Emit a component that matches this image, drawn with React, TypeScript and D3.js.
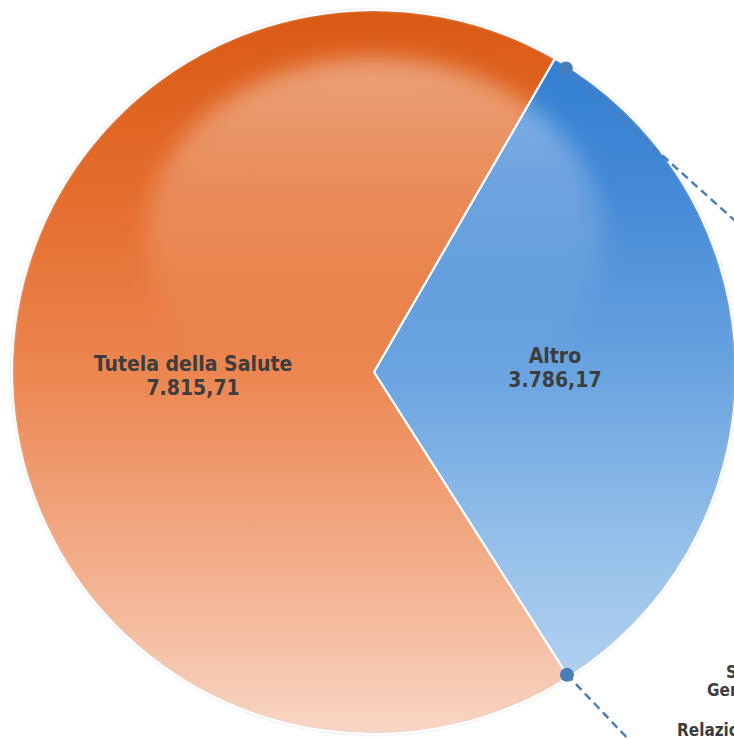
import React from 'react';
import * as d3 from 'd3';

const categories = ['Altro', 'Tutela della Salute'];
const values = [3786.17, 7815.71];
const valueLabels = ['3.786,17', '7.815,71'];
const sideLabelsA = ['Servizi', 'Generali'];
const sideLabelsB = ['Relazioni'];

const W = 734;
const H = 740;
const cx = 374;
const cy = 372;
const R = 362;
const START_DEG = 30;

const gradStops: Record<string, [number, string][]> = {
  'Tutela della Salute': [
    [0, '#DA5A14'],
    [0.25, '#E46C2C'],
    [0.5, '#EC8650'],
    [0.78, '#F3B08E'],
    [1, '#F8D6C4'],
  ],
  Altro: [
    [0, '#2C7BD0'],
    [0.25, '#4489D6'],
    [0.5, '#6AA4E0'],
    [0.78, '#9CC4EB'],
    [1, '#BCD7F2'],
  ],
};

export default function App() {
  const pie = d3
    .pie<number>()
    .sort(null)
    .value((d) => d)
    .startAngle((START_DEG * Math.PI) / 180)
    .endAngle((START_DEG * Math.PI) / 180 + 2 * Math.PI);
  const arcs = pie(values);
  const arc = d3.arc<d3.PieArcDatum<number>>().innerRadius(0).outerRadius(R);
  const labelArc = d3.arc<d3.PieArcDatum<number>>().innerRadius(R * 0.5).outerRadius(R * 0.5);

  const polar = (a: number, r: number): [number, number] => [
    cx + r * Math.sin(a),
    cy - r * Math.cos(a),
  ];
  const altro = arcs[0];
  const dotTop = polar(altro.startAngle + (2.3 * Math.PI) / 180, R - 3);
  const dotBot = polar(altro.endAngle, R - 3);
  const lineTopEnd: [number, number] = [dotTop[0] + 200, dotTop[1] + 200 * 0.9];
  const lineBotEnd: [number, number] = [dotBot[0] + 200, dotBot[1] + 200 * 1.05];

  const font = '"DejaVu Sans", Verdana, sans-serif';
  const hlTop = cy - R + 48;
  const hlBot = cy + 40;

  return (
    <svg
      width={W}
      height={H}
      style={{ position: 'absolute', left: 0, top: 0, background: '#fff' }}
    >
      <defs>
        {categories.map((c, i) => (
          <linearGradient
            key={c}
            id={`g${i}`}
            gradientUnits="userSpaceOnUse"
            x1={0}
            y1={-R}
            x2={0}
            y2={R}
          >
            {gradStops[c].map(([o, col]) => (
              <stop key={o} offset={o} stopColor={col} />
            ))}
          </linearGradient>
        ))}
        <linearGradient
          id="hl"
          gradientUnits="userSpaceOnUse"
          x1={0}
          y1={hlTop}
          x2={0}
          y2={hlBot - 40}
        >
          <stop offset={0} stopColor="#fff" stopOpacity={0.42} />
          <stop offset={0.35} stopColor="#fff" stopOpacity={0.25} />
          <stop offset={0.75} stopColor="#fff" stopOpacity={0.07} />
          <stop offset={1} stopColor="#fff" stopOpacity={0} />
        </linearGradient>
        <clipPath id="pieClip">
          <circle cx={cx} cy={cy} r={R} />
        </clipPath>
        <filter id="blur" x="-50%" y="-50%" width="200%" height="200%">
          <feGaussianBlur stdDeviation={11} />
        </filter>
        <filter id="blurSmall" x="-50%" y="-50%" width="200%" height="200%">
          <feGaussianBlur stdDeviation={1.2} />
        </filter>
      </defs>

      <g transform={`translate(${cx},${cy})`}>
        {arcs.map((a, i) => (
          <path key={categories[i]} d={arc(a) || ''} fill={`url(#g${i})`} />
        ))}
      </g>

      <g clipPath="url(#pieClip)">
        <ellipse
          cx={cx}
          cy={(hlTop + hlBot) / 2}
          rx={228}
          ry={(hlBot - hlTop) / 2}
          fill="url(#hl)"
          filter="url(#blur)"
        />
      </g>

      <circle
        cx={cx}
        cy={cy}
        r={R}
        fill="none"
        stroke="#cfcfcf"
        strokeWidth={1.5}
        filter="url(#blurSmall)"
      />

      <g transform={`translate(${cx},${cy})`}>
        {arcs.map((a, i) => (
          <path
            key={'s' + categories[i]}
            d={arc(a) || ''}
            fill="none"
            stroke="#ffffff"
            strokeWidth={2}
            strokeLinejoin="round"
          />
        ))}
      </g>

      <rect x={673} y={577} width={100} height={200} fill="#ffffff" />

      <line
        x1={dotTop[0]}
        y1={dotTop[1]}
        x2={lineTopEnd[0]}
        y2={lineTopEnd[1]}
        stroke="#4A7EBB"
        strokeWidth={2.5}
        strokeDasharray="8 5"
      />
      <line
        x1={dotBot[0]}
        y1={dotBot[1]}
        x2={lineBotEnd[0]}
        y2={lineBotEnd[1]}
        stroke="#4A7EBB"
        strokeWidth={2.5}
        strokeDasharray="8 5"
      />
      <circle cx={dotTop[0]} cy={dotTop[1]} r={7} fill="#4A7EBB" />
      <circle cx={dotBot[0]} cy={dotBot[1]} r={7} fill="#4A7EBB" />

      <g transform={`translate(${cx},${cy})`}>
        {arcs.map((a, i) => {
          const [x, y] = labelArc.centroid(a);
          return (
            <text
              key={'t' + categories[i]}
              x={x}
              y={y}
              textAnchor="middle"
              fontFamily={font}
              fontWeight="bold"
              fontSize={21}
              fill="#3D3D3D"
              style={{ fontStretch: 'condensed' }}
            >
              <tspan x={x} dy={-5}>
                {categories[i]}
              </tspan>
              <tspan x={x} dy={24}>
                {valueLabels[i]}
              </tspan>
            </text>
          );
        })}
      </g>

      <text
        x={726}
        y={678}
        fontFamily={font}
        fontWeight="bold"
        fontSize={17}
        fill="#3D3D3D"
        style={{ fontStretch: 'condensed' }}
      >
        {sideLabelsA[0]}
      </text>
      <text
        x={707}
        y={696}
        fontFamily={font}
        fontWeight="bold"
        fontSize={17}
        fill="#3D3D3D"
        style={{ fontStretch: 'condensed' }}
      >
        {sideLabelsA[1]}
      </text>
      <text
        x={677}
        y={736}
        fontFamily={font}
        fontWeight="bold"
        fontSize={17}
        fill="#3D3D3D"
        style={{ fontStretch: 'condensed' }}
      >
        {sideLabelsB[0]}
      </text>
    </svg>
  );
}
